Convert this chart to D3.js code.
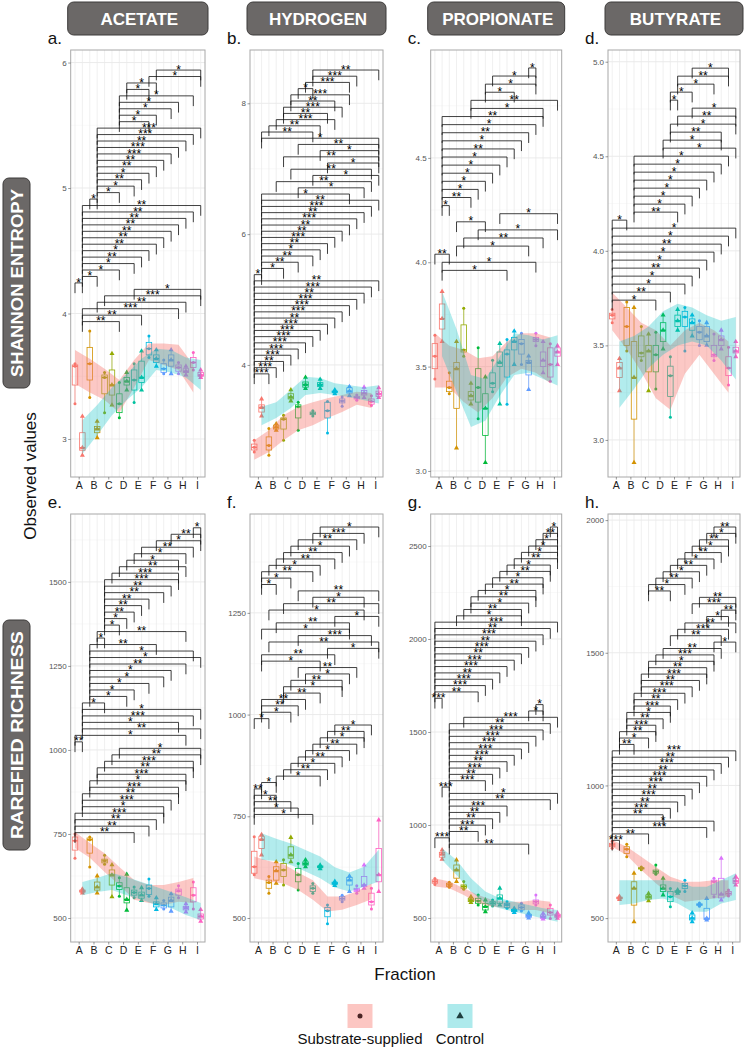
<!DOCTYPE html>
<html><head><meta charset="utf-8">
<script src="https://cdnjs.cloudflare.com/ajax/libs/d3/7.8.5/d3.min.js"></script>
<style>
body{margin:0;background:#fff}
text{font-family:"Liberation Sans",Arial,sans-serif}
</style>
</head><body>
<svg id="chart" width="748" height="1049"></svg>
<script>
// ---------------- DATA ----------------
const fractions = ["A","B","C","D","E","F","G","H","I"];
const fractionColors = ["#F8766D","#D39200","#93AA00","#00BA38","#00C19F","#00B9E3","#619CFF","#DB72FB","#FF61C3"];
const treatments = ["Substrate-supplied","Control"];
const substrates = ["ACETATE","HYDROGEN","PROPIONATE","BUTYRATE"];
const metrics = ["SHANNON ENTROPY","RAREFIED RICHNESS"];
const panelLetters = ["a.","b.","c.","d.","e.","f.","g.","h."];
const yDomains = [[2.697,6.10],[2.287,8.815],[2.971,5.017],[2.804,5.062],[428.6,1702],[441,1493],[371,2672],[410,2023]];
const yTicks = [[3,4,5,6],[4,6,8],[3.0,3.5,4.0,4.5],[3.0,3.5,4.0,4.5,5.0],[500,750,1000,1250,1500],[500,750,1000,1250],[500,1000,1500,2000,2500],[500,1000,1500,2000]];
const yTickFormats = ["d","d",".1f",".1f","d","d","d","d"];

// boxes: 18 per panel, order A-substrate, A-control, B-substrate, ... ; [min, q1, median, q3, max]
const boxes_a = [[3.28,3.43,3.58,3.59,3.60],[2.87,2.91,2.93,3.05,3.18],[3.33,3.47,3.60,3.73,3.86],[3.01,3.05,3.08,3.10,3.14],[3.21,3.36,3.49,3.51,3.53],[3.27,3.35,3.43,3.55,3.68],[3.17,3.21,3.28,3.36,3.45],[3.39,3.43,3.46,3.49,3.53],[3.29,3.39,3.47,3.55,3.60],[3.39,3.45,3.49,3.62,3.70],[3.65,3.67,3.72,3.77,3.82],[3.58,3.61,3.64,3.67,3.71],[3.52,3.53,3.56,3.60,3.63],[3.52,3.58,3.63,3.67,3.71],[3.52,3.54,3.57,3.59,3.61],[3.51,3.53,3.54,3.56,3.58],[3.55,3.57,3.61,3.65,3.69],[3.49,3.50,3.51,3.53,3.55]];
const boxes_b = [[2.67,2.70,2.74,2.79,2.85],[3.22,3.28,3.35,3.39,3.48],[2.62,2.70,2.77,2.90,3.03],[3.00,3.02,3.05,3.08,3.10],[2.85,3.02,3.17,3.19,3.23],[3.45,3.48,3.51,3.56,3.62],[3.00,3.19,3.36,3.39,3.43],[3.64,3.66,3.70,3.74,3.81],[3.22,3.24,3.26,3.28,3.30],[3.64,3.67,3.70,3.73,3.78],[2.96,3.19,3.30,3.43,3.44],[3.56,3.58,3.59,3.60,3.62],[3.37,3.42,3.45,3.48,3.51],[3.53,3.57,3.60,3.65,3.67],[3.46,3.48,3.50,3.52,3.54],[3.50,3.54,3.57,3.61,3.66],[3.38,3.40,3.44,3.48,3.53],[3.50,3.52,3.56,3.60,3.65]];
const boxes_c = [[3.44,3.49,3.55,3.61,3.65],[3.62,3.68,3.73,3.80,3.86],[3.37,3.38,3.40,3.43,3.47],[3.11,3.30,3.49,3.52,3.62],[3.55,3.57,3.58,3.70,3.78],[3.32,3.34,3.36,3.38,3.42],[3.25,3.33,3.40,3.49,3.59],[3.04,3.17,3.30,3.37,3.45],[3.38,3.40,3.42,3.47,3.53],[3.32,3.50,3.52,3.57,3.61],[3.32,3.45,3.56,3.58,3.63],[3.51,3.58,3.62,3.64,3.67],[3.51,3.56,3.61,3.63,3.66],[3.39,3.46,3.52,3.53,3.55],[3.60,3.62,3.63,3.64,3.66],[3.47,3.50,3.53,3.57,3.62],[3.43,3.45,3.51,3.59,3.61],[3.51,3.55,3.57,3.59,3.60]];
const boxes_d = [[3.62,3.64,3.66,3.67,3.69],[3.26,3.33,3.38,3.41,3.43],[3.47,3.50,3.60,3.70,3.73],[2.88,3.11,3.33,3.52,3.70],[3.42,3.44,3.46,3.55,3.60],[3.26,3.36,3.47,3.50,3.56],[3.27,3.36,3.45,3.50,3.57],[3.48,3.52,3.58,3.62,3.66],[3.12,3.23,3.34,3.39,3.44],[3.58,3.60,3.63,3.66,3.69],[3.47,3.60,3.65,3.68,3.70],[3.55,3.58,3.62,3.64,3.66],[3.50,3.53,3.57,3.60,3.63],[3.50,3.52,3.55,3.60,3.62],[3.42,3.44,3.45,3.50,3.56],[3.48,3.50,3.53,3.55,3.58],[3.29,3.34,3.38,3.44,3.49],[3.44,3.46,3.47,3.49,3.52]];
const boxes_e = [[678,702,730,741,750],[574,577,580,583,586],[652,693,733,738,741],[574,583,592,607,625],[660,664,670,675,687],[563,598,628,643,658],[565,585,595,605,620],[523,545,555,590,630],[560,568,576,583,592],[552,559,568,577,590],[565,570,588,598,616],[525,533,542,548,560],[527,530,538,545,552],[520,533,552,562,572],[560,568,580,586,596],[518,524,530,534,542],[527,548,568,590,607],[490,497,505,512,525]];
const boxes_f = [[606,610,626,664,700],[655,671,693,700,705],[561,573,587,593,602],[585,593,616,626,638],[581,602,618,634,643],[638,647,655,675,698],[569,589,606,622,634],[626,630,634,638,643],[561,565,573,579,585],[621,624,626,628,630],[486,503,518,526,532],[580,583,585,588,590],[540,544,548,553,556],[565,581,593,600,603],[561,565,569,573,579],[573,577,581,602,630],[522,532,540,561,573],[565,589,606,671,741]];
const boxes_g = [[680,687,696,705,712],[816,827,843,852,866],[665,669,678,687,692],[696,714,758,785,812],[655,660,669,678,696],[583,588,597,606,615],[570,579,592,606,624],[534,543,561,579,597],[565,570,579,588,597],[570,579,606,624,660],[552,557,570,579,588],[530,534,541,547,552],[538,543,557,570,579],[500,504,512,520,527],[570,576,588,597,624],[494,498,507,516,525],[498,516,530,552,570],[498,504,512,520,527]];
const boxes_h = [[763,769,776,782,790],[570,573,576,579,582],[731,744,760,769,778],[486,549,612,637,669],[682,685,688,690,693],[565,572,580,587,593],[665,669,675,681,700],[587,600,612,625,650],[543,562,581,600,612],[594,597,600,603,606],[600,612,622,631,643],[486,493,500,512,520],[545,548,551,554,557],[493,495,499,537,574],[581,590,637,643,650],[568,576,590,650,725],[583,587,593,600,606],[625,631,640,650,656]];

// smoothed confidence ribbons per fraction (A..I)
const subUpper_a = [3.71,3.64,3.56,3.47,3.63,3.76,3.76,3.75,3.59];
const subLower_a = [3.44,3.37,3.31,3.21,3.41,3.63,3.59,3.55,3.37];
const ctlUpper_a = [3.15,3.27,3.41,3.52,3.64,3.72,3.71,3.65,3.63];
const ctlLower_a = [2.88,3.03,3.19,3.31,3.41,3.55,3.53,3.49,3.39];
const subUpper_b = [2.85,3.00,3.23,3.36,3.43,3.49,3.54,3.59,3.57];
const subLower_b = [2.55,2.67,2.85,3.00,3.08,3.19,3.28,3.39,3.34];
const ctlUpper_b = [3.36,3.43,3.62,3.82,3.80,3.72,3.69,3.66,3.69];
const ctlLower_b = [3.08,3.19,3.34,3.54,3.57,3.54,3.51,3.46,3.41];
const subUpper_c = [3.66,3.60,3.58,3.54,3.55,3.62,3.66,3.66,3.64];
const subLower_c = [3.40,3.40,3.33,3.28,3.35,3.45,3.49,3.47,3.42];
const ctlUpper_c = [3.86,3.68,3.46,3.44,3.55,3.66,3.65,3.63,3.65];
const ctlLower_c = [3.55,3.38,3.21,3.24,3.36,3.46,3.47,3.44,3.41];
const subUpper_d = [3.78,3.70,3.62,3.58,3.50,3.58,3.62,3.58,3.52];
const subLower_d = [3.58,3.48,3.36,3.22,3.16,3.35,3.45,3.35,3.25];
const ctlUpper_d = [3.52,3.55,3.60,3.68,3.72,3.70,3.66,3.63,3.65];
const ctlLower_d = [3.17,3.27,3.38,3.45,3.50,3.52,3.50,3.42,3.32];
const subUpper_e = [756,723,693,652,613,598,598,607,619];
const subLower_e = [708,679,637,598,554,545,539,548,545];
const ctlUpper_e = [607,619,634,622,607,592,577,562,545];
const ctlLower_e = [568,577,583,568,554,539,530,509,494];
const subUpper_f = [651,640,632,612,593,553,553,565,585];
const subLower_f = [598,590,585,569,545,516,520,532,546];
const ctlUpper_f = [708,695,683,667,651,625,612,626,668];
const ctlLower_f = [643,640,630,614,598,575,565,577,590];
const subUpper_g = [714,696,660,624,597,588,588,597,588];
const subLower_g = [669,660,624,579,561,552,543,543,525];
const ctlUpper_g = [875,812,714,642,606,588,570,552,543];
const ctlLower_g = [812,731,642,579,552,534,516,498,480];
const subUpper_h = [794,769,731,693,656,637,637,643,643];
const subLower_h = [769,737,681,631,587,562,568,574,581];
const ctlUpper_h = [643,643,643,643,637,618,618,643,669];
const ctlLower_h = [549,555,568,574,555,524,524,555,568];

// significance brackets: [group index 1, group index 2, label], stacked from the top
const brackets_a = [[11,17,"*"],[10,17,"*"],[7,11,"*"],[7,10,"*"],[6,16,"*"],[6,14,"*"],[6,13,"*"],[6,11,"*"],[6,10,"*"],[3,17,"***"],[3,16,"***"],[3,15,"**"],[3,14,"***"],[3,13,"***"],[3,12,"**"],[3,11,"**"],[3,10,"*"],[3,9,"**"],[3,8,"*"],[3,6,"*"],[2,3,"*"],[1,17,"**"],[1,16,"**"],[1,15,"**"],[1,14,"**"],[1,13,"**"],[1,12,"**"],[1,11,"**"],[1,10,"*"],[1,9,"**"],[1,8,"*"],[1,6,"*"],[1,3,"*"],[0,1,"*"],[8,17,"*"],[4,17,"***"],[3,15,"**"],[1,14,"***"],[1,9,"**"],[1,6,"**"]];
const brackets_b = [[8,17,"**"],[8,14,"***"],[7,13,"***"],[6,8,"*"],[5,13,"***"],[5,11,"**"],[4,12,"***"],[4,10,"**"],[3,11,"***"],[2,9,"**"],[1,8,"**"],[1,17,"*"],[6,17,"**"],[9,17,"*"],[4,17,"**"],[10,17,"*"],[5,16,"**"],[8,17,"*"],[3,16,"**"],[6,15,"*"],[1,13,"*"],[1,17,"**"],[1,16,"***"],[1,15,"**"],[1,14,"***"],[1,13,"**"],[1,12,"**"],[1,11,"***"],[1,10,"**"],[1,9,"*"],[1,8,"**"],[1,6,"**"],[1,4,"*"],[0,1,"*"],[0,17,"**"],[0,16,"***"],[0,15,"**"],[0,14,"***"],[0,13,"***"],[0,12,"***"],[0,11,"**"],[0,10,"***"],[0,9,"***"],[0,8,"***"],[0,7,"***"],[0,6,"***"],[0,5,"***"],[0,4,"**"],[0,3,"***"],[0,2,"***"]];
const brackets_c = [[13,14,"*"],[8,14,"*"],[7,14,"*"],[7,11,"*"],[5,17,"**"],[5,15,"*"],[1,15,"**"],[1,14,"*"],[1,13,"**"],[1,12,"*"],[1,11,"**"],[1,10,"*"],[1,9,"*"],[1,8,"*"],[1,7,"*"],[1,6,"*"],[1,5,"**"],[1,2,"*"],[9,17,"*"],[3,7,"*"],[6,17,"*"],[4,15,"**"],[3,13,"*"],[0,2,"**"],[1,14,"*"],[1,10,"*"]];
const brackets_d = [[11,16,"*"],[9,16,"**"],[9,14,"*"],[8,11,"*"],[8,9,"*"],[11,17,"*"],[9,17,"**"],[8,17,"*"],[8,15,"**"],[7,15,"*"],[7,17,"*"],[3,16,"*"],[3,15,"*"],[3,14,"*"],[3,13,"*"],[3,12,"*"],[3,11,"*"],[3,10,"*"],[3,9,"**"],[0,2,"*"],[0,17,"*"],[0,16,"*"],[0,15,"**"],[0,14,"*"],[0,13,"*"],[0,12,"**"],[0,11,"*"],[0,10,"*"],[0,8,"**"],[0,6,"*"]];
const brackets_e = [[16,17,"*"],[13,17,"**"],[11,17,"*"],[9,16,"**"],[8,15,"*"],[7,14,"*"],[6,15,"**"],[5,14,"***"],[4,14,"***"],[4,13,"**"],[4,12,"**"],[4,10,"**"],[4,9,"**"],[4,8,"**"],[4,7,"*"],[4,6,"*"],[3,15,"**"],[3,4,"*"],[2,11,"**"],[2,16,"*"],[2,17,"*"],[2,15,"**"],[2,13,"*"],[2,12,"*"],[2,10,"*"],[2,8,"*"],[2,7,"*"],[1,4,"*"],[1,17,"*"],[1,16,"***"],[1,14,"*"],[1,17,"**"],[0,15,"*"],[0,1,"**"],[6,17,"*"],[5,17,"**"],[4,16,"***"],[3,16,"**"],[3,15,"***"],[2,15,"*"],[2,14,"***"],[1,14,"**"],[1,13,"***"],[1,12,"*"],[0,12,"***"],[0,11,"**"],[0,10,"**"],[0,8,"**"]];
const brackets_f = [[9,17,"*"],[8,15,"***"],[6,14,"**"],[5,13,"*"],[4,12,"**"],[3,11,"**"],[2,9,"*"],[1,8,"**"],[1,5,"*"],[1,3,"*"],[6,17,"**"],[8,15,"*"],[4,17,"**"],[2,15,"*"],[11,17,"*"],[3,13,"**"],[1,13,"*"],[6,16,"***"],[2,17,"**"],[10,17,"*"],[1,11,"**"],[1,9,"*"],[6,14,"**"],[7,13,"*"],[5,12,"**"],[4,12,"*"],[4,9,"**"],[1,7,"**"],[1,6,"**"],[1,5,"*"],[0,2,"*"],[11,16,"*"],[10,15,"**"],[9,15,"*"],[8,14,"**"],[7,13,"*"],[6,12,"**"],[5,11,"*"],[4,10,"**"],[3,9,"*"],[1,3,"*"],[0,1,"**"],[0,3,"*"],[0,5,"**"],[0,6,"*"],[0,8,"*"]];
const brackets_g = [[16,17,"*"],[15,17,"**"],[14,17,"*"],[13,17,"*"],[12,17,"*"],[11,17,"**"],[10,16,"*"],[9,16,"**"],[8,15,"*"],[7,15,"**"],[6,14,"*"],[5,14,"**"],[5,13,"*"],[4,12,"**"],[3,12,"*"],[0,17,"***"],[0,16,"**"],[0,15,"***"],[0,14,"**"],[0,13,"***"],[0,12,"**"],[0,11,"***"],[0,10,"***"],[0,9,"**"],[0,8,"***"],[0,7,"***"],[0,6,"**"],[0,1,"***"],[14,15,"*"],[13,15,"*"],[4,17,"***"],[2,16,"**"],[2,15,"***"],[2,14,"***"],[2,13,"***"],[2,12,"***"],[2,11,"***"],[2,10,"**"],[2,9,"***"],[2,8,"**"],[2,7,"***"],[1,2,"***"],[2,17,"*"],[2,16,"**"],[2,10,"***"],[2,9,"**"],[2,8,"**"],[2,7,"***"],[2,6,"**"],[0,2,"***"],[2,13,"**"]];
const brackets_h = [[14,17,"**"],[13,17,"*"],[12,16,"**"],[11,16,"*"],[10,15,"**"],[9,14,"*"],[8,13,"**"],[7,12,"*"],[6,11,"**"],[5,10,"*"],[5,8,"**"],[12,17,"**"],[11,17,"***"],[15,17,"**"],[13,16,"*"],[10,17,"**"],[9,16,"***"],[8,15,"**"],[14,17,"*"],[7,15,"**"],[6,14,"***"],[5,14,"*"],[5,13,"**"],[4,13,"***"],[4,12,"**"],[4,11,"***"],[3,10,"***"],[3,9,"**"],[3,8,"***"],[2,8,"*"],[2,7,"**"],[2,6,"***"],[1,6,"**"],[1,5,"*"],[1,3,"**"],[0,17,"***"],[0,16,"**"],[0,15,"***"],[0,14,"**"],[0,13,"***"],[0,12,"***"],[0,11,"**"],[0,10,"***"],[0,9,"**"],[0,8,"***"],[0,7,"**"],[0,14,"*"],[0,13,"***"],[0,5,"**"],[0,1,"***"]];
// y of the first bracket and the increment between stacked brackets (data units)
const bracketStart = [5.94, 8.509, 4.931, 4.966, 1661, 1461, 2602, 1974];
const bracketStep = [0.0514, 0.0948, 0.0388, 0.0423, 19.3, 15.7, 34.1, 24.1];

const allBoxes = [boxes_a,boxes_b,boxes_c,boxes_d,boxes_e,boxes_f,boxes_g,boxes_h];
const allSubUpper = [subUpper_a,subUpper_b,subUpper_c,subUpper_d,subUpper_e,subUpper_f,subUpper_g,subUpper_h];
const allSubLower = [subLower_a,subLower_b,subLower_c,subLower_d,subLower_e,subLower_f,subLower_g,subLower_h];
const allCtlUpper = [ctlUpper_a,ctlUpper_b,ctlUpper_c,ctlUpper_d,ctlUpper_e,ctlUpper_f,ctlUpper_g,ctlUpper_h];
const allCtlLower = [ctlLower_a,ctlLower_b,ctlLower_c,ctlLower_d,ctlLower_e,ctlLower_f,ctlLower_g,ctlLower_h];
const allBrackets = [brackets_a,brackets_b,brackets_c,brackets_d,brackets_e,brackets_f,brackets_g,brackets_h];

// ---------------- LAYOUT ----------------
const colLeft = [70.7, 250, 430.7, 608];
const colRight = [205, 383, 561.7, 740];
const rowTop = [50, 514];
const rowBottom = [477, 942];
const stripColor = "#6b6867";
const subColor = "#F8766D", ctlColor = "#00BFC4";

const svg = d3.select("#chart");
svg.append("rect").attr("width",748).attr("height",1049).attr("fill","#fff");

// column strips
substrates.forEach((s,i)=>{
  const g = svg.append("g");
  g.append("rect").attr("x",colLeft[i]-3).attr("y",2).attr("width",colRight[i]-colLeft[i]+6).attr("height",33)
    .attr("rx",6).attr("fill",stripColor).attr("stroke","#3d3b3a").attr("stroke-width",1);
  g.append("text").attr("x",(colLeft[i]+colRight[i])/2+1.5).attr("y",24.8).attr("text-anchor","middle")
    .attr("fill","#fff").attr("font-weight","bold").attr("font-size",17).text(s);
});
// row strips
const rowStripY = [[178,388],[620,850]];
metrics.forEach((m,i)=>{
  const [a,b] = rowStripY[i];
  svg.append("rect").attr("x",3).attr("y",a).attr("width",27).attr("height",b-a).attr("rx",6)
    .attr("fill",stripColor).attr("stroke","#3d3b3a");
  svg.append("text").attr("transform",`translate(22.5,${(a+b)/2}) rotate(-90)`).attr("text-anchor","middle")
    .attr("fill","#fff").attr("font-weight","bold").attr("font-size",16.5)
    .attr("textLength",b-a-22).attr("lengthAdjust","spacingAndGlyphs").text(m);
});
// axis titles
svg.append("text").attr("transform","translate(36,476) rotate(-90)").attr("text-anchor","middle")
  .attr("font-size",17).attr("fill","#111").text("Observed values");
svg.append("text").attr("x",405).attr("y",980).attr("text-anchor","middle").attr("font-size",17).attr("fill","#111").text("Fraction");

const tri = d3.symbol().type(d3.symbolTriangle).size(11);

panelLetters.forEach((letter,p)=>{
  const col = p%4, row = Math.floor(p/4);
  const x0 = colLeft[col], x1 = colRight[col], y0 = rowTop[row], y1 = rowBottom[row];
  const keys = d3.range(18);
  const x = d3.scalePoint().domain(keys).range([x0,x1]).padding(0.58);
  const fx = d3.scalePoint().domain(fractions).range([x0,x1]).padding(0.54);
  const dom = yDomains[p];
  const y = d3.scaleLinear().domain(dom).range([y1,y0]);
  const g = svg.append("g");
  const clipId = "clip"+p;
  g.append("clipPath").attr("id",clipId).append("rect").attr("x",x0).attr("y",y0).attr("width",x1-x0).attr("height",y1-y0);

  // panel letter
  svg.append("text").attr("x",x0-23).attr("y",y0-6).attr("font-size",17).attr("fill","#111").text(letter);

  g.append("rect").attr("x",x0).attr("y",y0).attr("width",x1-x0).attr("height",y1-y0).attr("fill","#fff");
  // grid
  const ticks = yTicks[p], dt = ticks[1]-ticks[0];
  const minor = d3.range(ticks[0]-dt/2, dom[1], dt).filter(v=>v>dom[0]);
  g.selectAll(".mn").data(minor).join("line").attr("x1",x0).attr("x2",x1).attr("y1",d=>y(d)).attr("y2",d=>y(d))
    .attr("stroke","#f3f3f3").attr("stroke-width",0.5);
  g.selectAll(".mj").data(ticks).join("line").attr("x1",x0).attr("x2",x1).attr("y1",d=>y(d)).attr("y2",d=>y(d))
    .attr("stroke","#e6e6e6").attr("stroke-width",0.8);
  g.selectAll(".vg").data(keys).join("line").attr("x1",d=>x(d)).attr("x2",d=>x(d)).attr("y1",y0).attr("y2",y1)
    .attr("stroke","#e9e9e9").attr("stroke-width",0.7);

  const data = g.append("g").attr("clip-path",`url(#${clipId})`);
  // boxes
  const bw = 5.5;
  allBoxes[p].forEach((b,k)=>{
    const c = fractionColors[Math.floor(k/2)];
    const cx = x(k);
    const bg = data.append("g");
    bg.append("line").attr("x1",cx).attr("x2",cx).attr("y1",y(b[0])).attr("y2",y(b[1])).attr("stroke",c).attr("stroke-width",0.7);
    bg.append("line").attr("x1",cx).attr("x2",cx).attr("y1",y(b[3])).attr("y2",y(b[4])).attr("stroke",c).attr("stroke-width",0.7);
    bg.append("rect").attr("x",cx-bw/2).attr("y",y(b[3])).attr("width",bw).attr("height",Math.max(0.5,y(b[1])-y(b[3])))
      .attr("fill","none").attr("stroke",c).attr("stroke-width",0.8);
    bg.append("line").attr("x1",cx-bw/2).attr("x2",cx+bw/2).attr("y1",y(b[2])).attr("y2",y(b[2])).attr("stroke",c).attr("stroke-width",1.4);
    const pts = [b[0],b[2],b[4]];
    if(k%2===0){
      bg.selectAll("circle").data(pts).join("circle").attr("cx",cx).attr("cy",d=>y(d)).attr("r",1.5).attr("fill",c);
    } else {
      bg.selectAll("path").data(pts).join("path").attr("d",tri).attr("transform",d=>`translate(${cx},${y(d)})`).attr("fill",c);
    }
  });
  // ribbons
  const ribbon = (up,lo,offset)=> d3.area().x((d,i)=>x(2*i+offset)).y0((d,i)=>y(lo[i])).y1((d,i)=>y(up[i]))(fractions);
  data.append("path").attr("d",ribbon(allSubUpper[p],allSubLower[p],0)).attr("fill",subColor).attr("fill-opacity",0.4);
  data.append("path").attr("d",ribbon(allCtlUpper[p],allCtlLower[p],1)).attr("fill",ctlColor).attr("fill-opacity",0.3);

  // brackets
  const tip = (dom[1]-dom[0])*0.024;
  const bG = g.append("g");
  allBrackets[p].forEach((br,i)=>{
    const yv = bracketStart[p] - i*bracketStep[p];
    const xa = x(br[0]), xb = x(br[1]);
    bG.append("path").attr("d",`M${xa},${y(yv-tip)}V${y(yv)}H${xb}V${y(yv-tip)}`)
      .attr("fill","none").attr("stroke","#111").attr("stroke-width",0.8);
    bG.append("text").attr("x",(xa+xb)/2).attr("y",y(yv)+3.6).attr("text-anchor","middle")
      .attr("font-size",12).attr("fill","#000").text(br[2]);
  });

  // border
  g.append("rect").attr("x",x0).attr("y",y0).attr("width",x1-x0).attr("height",y1-y0)
    .attr("fill","none").attr("stroke","#a8a8a8").attr("stroke-width",1);

  // axes
  const ya = g.append("g").attr("transform",`translate(${x0},0)`)
    .call(d3.axisLeft(y).tickValues(ticks).tickSize(2.5).tickPadding(1.5).tickFormat(d3.format(yTickFormats[p])));
  ya.select(".domain").remove();
  ya.selectAll("line").attr("stroke","#555").attr("stroke-width",0.6);
  ya.selectAll("text").attr("font-size",8).attr("fill","#555").attr("font-family","'Liberation Sans',Arial,sans-serif");
  const xa = g.append("g").attr("transform",`translate(0,${y1})`).call(d3.axisBottom(fx).tickSize(2.5).tickPadding(2));
  xa.select(".domain").remove();
  xa.selectAll("line").attr("stroke","#555").attr("stroke-width",0.6);
  xa.selectAll("text").attr("font-size",10.5).attr("fill","#222").attr("font-family","'Liberation Sans',Arial,sans-serif");
});

// legend
const legX = [360, 460];
treatments.forEach((t,i)=>{
  const cx = legX[i];
  svg.append("rect").attr("x",cx-12.5).attr("y",1004).attr("width",25).attr("height",24)
    .attr("fill",i===0?subColor:ctlColor).attr("fill-opacity",i===0?0.42:0.32);
  if(i===0) svg.append("circle").attr("cx",cx).attr("cy",1016).attr("r",2.5).attr("fill","#4a2424");
  else svg.append("path").attr("d",d3.symbol().type(d3.symbolTriangle).size(24)).attr("transform",`translate(${cx},1016)`).attr("fill","#1f3f3f");
  svg.append("text").attr("x",cx).attr("y",1044).attr("text-anchor","middle").attr("font-size",15).attr("fill","#111").text(t);
});
</script>
</body></html>
